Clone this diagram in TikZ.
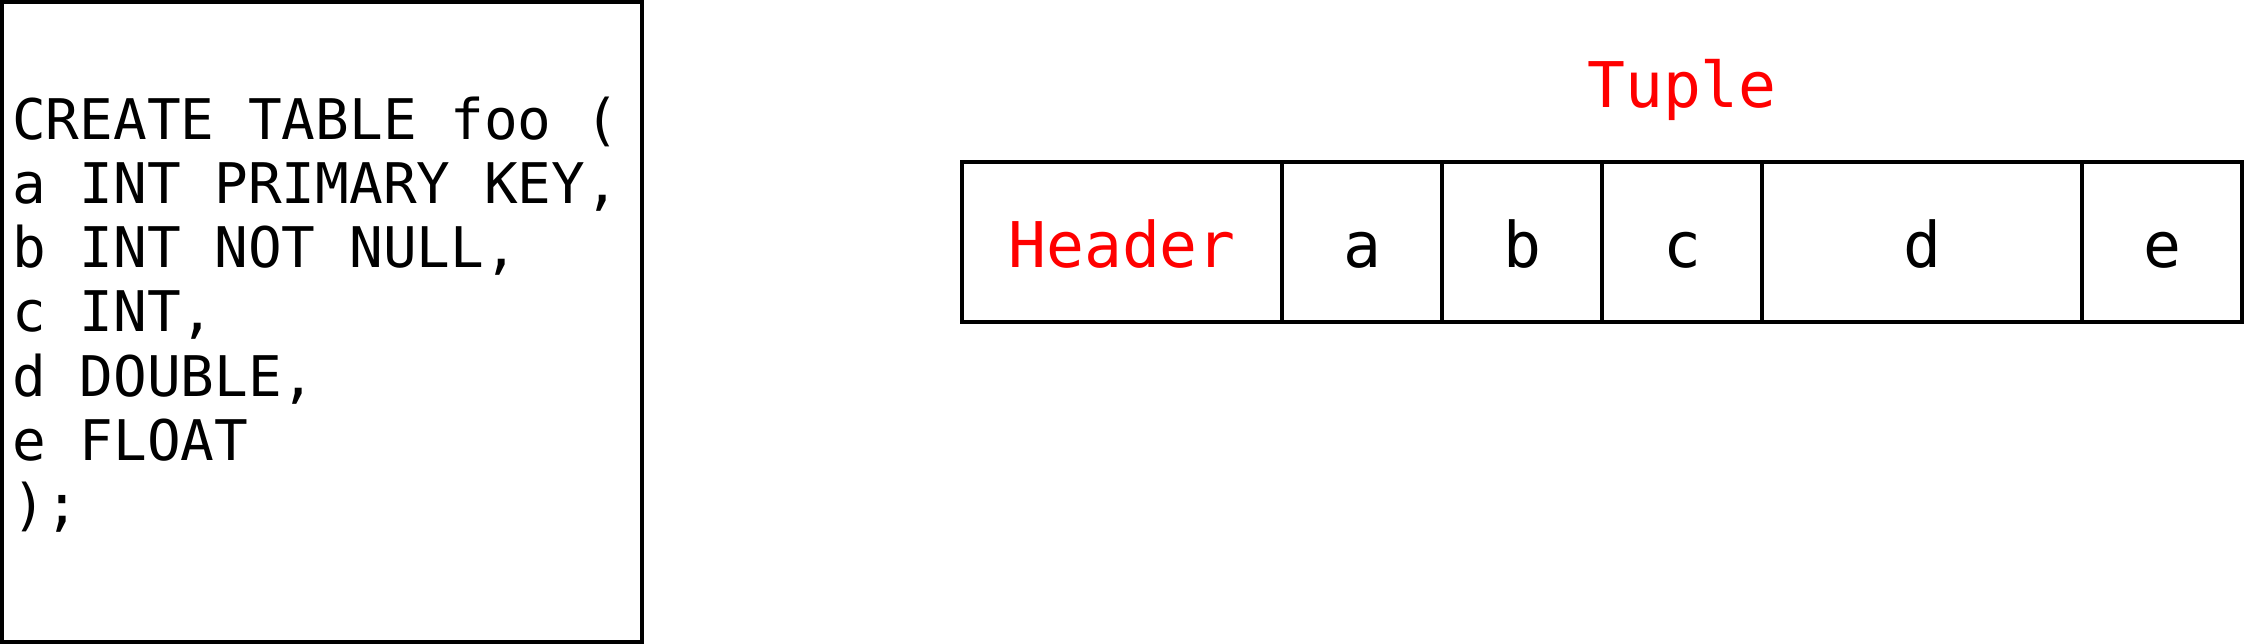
\documentclass[tikz,border=0pt]{standalone}
\usepackage{fontspec}
\newfontfamily\codefont{DejaVu Sans Mono}
\definecolor{tred}{RGB}{255,0,0}
\begin{document}
\begin{tikzpicture}[x=1pt,y=-1pt,
  codeline/.style={anchor=base west, inner sep=0pt, font=\codefont\fontsize{56}{64}\selectfont},
  cell/.style={draw, line width=4pt, minimum height=160pt, inner sep=0pt,
    text height=52pt, text depth=0pt, font=\codefont\fontsize{63}{70}\selectfont},
  title/.style={anchor=base, inner sep=0pt, text=tred, font=\codefont\fontsize{63}{70}\selectfont}]
\useasboundingbox (0,0) rectangle (2244,644);
\node[draw, line width=4pt, minimum size=640pt, inner sep=0pt] (codebox) at (322,322) {};
\node[codeline] (l1) at (12,140) {CREATE TABLE foo (};
\node[codeline] (l2) at (12,204) {a INT PRIMARY KEY,};
\node[codeline] (l3) at (12,268) {b INT NOT NULL,};
\node[codeline] (l4) at (12,332) {c INT,};
\node[codeline] (l5) at (12,396) {d DOUBLE,};
\node[codeline] (l6) at (12,460) {e FLOAT};
\node[codeline] (l7) at (12,524) {);};
\node[title] (tuple) at (1682,108) {Tuple};
\node[cell, minimum width=320pt, text=tred] (header) at (1122,242) {Header};
\node[cell, minimum width=160pt] (ca) at (1362,242) {a};
\node[cell, minimum width=160pt] (cb) at (1522,242) {b};
\node[cell, minimum width=160pt] (cc) at (1682,242) {c};
\node[cell, minimum width=320pt] (cd) at (1922,242) {d};
\node[cell, minimum width=160pt] (ce) at (2162,242) {e};
\end{tikzpicture}
\end{document}
